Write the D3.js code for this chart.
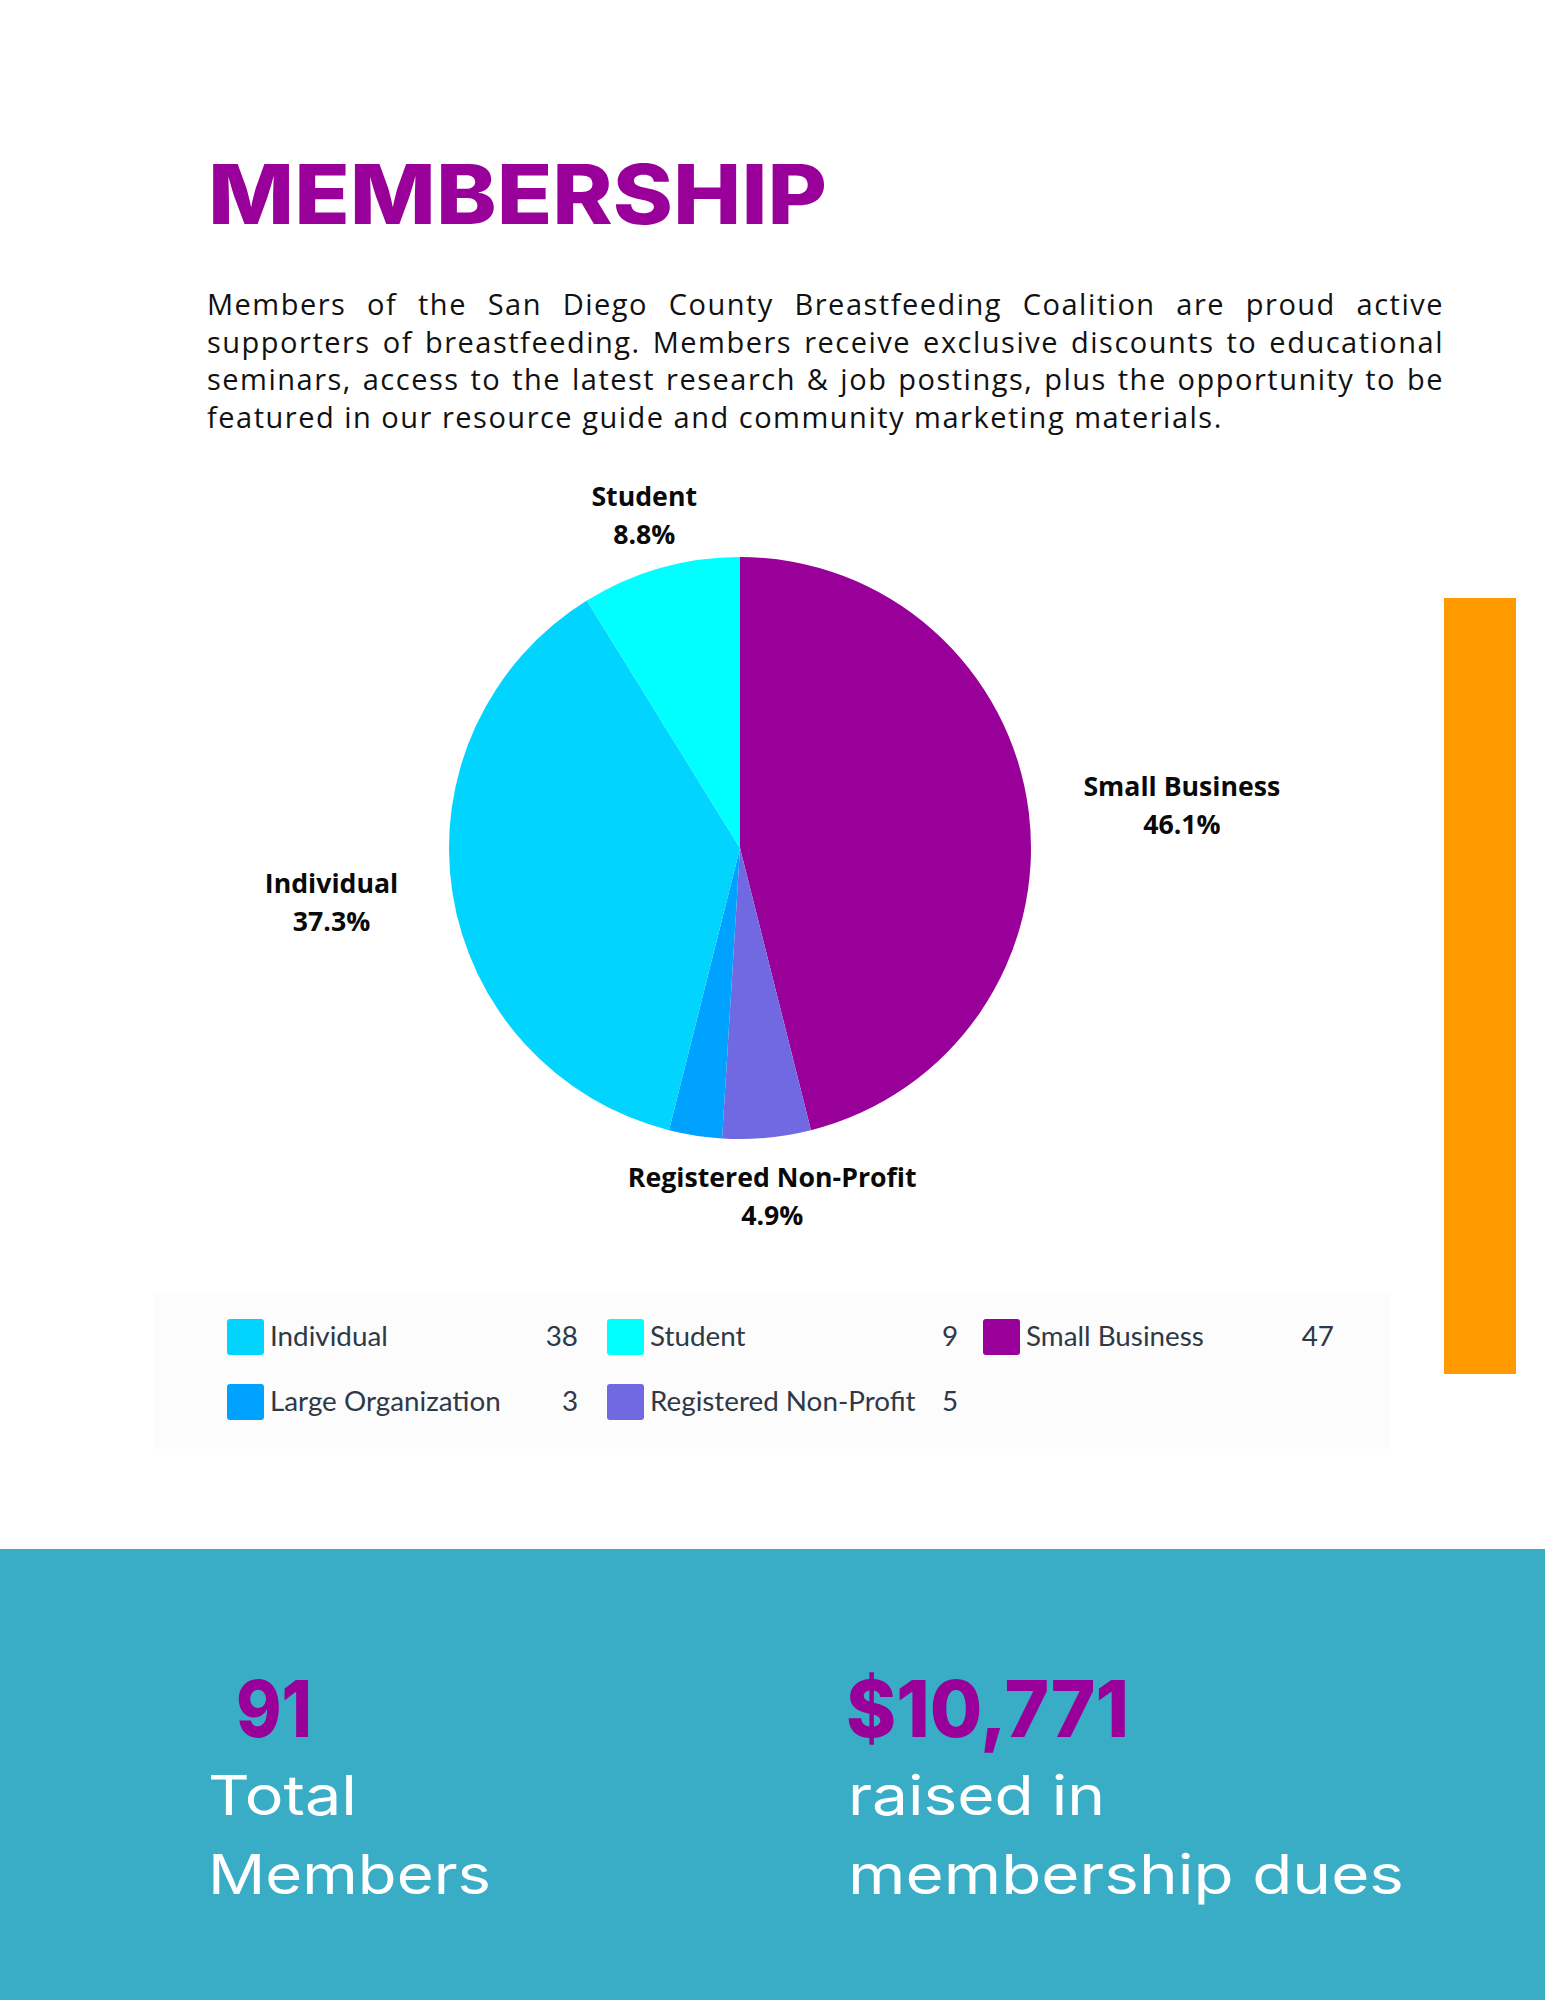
<!DOCTYPE html>
<html>
<head>
<meta charset="utf-8">
<script src="https://cdn.jsdelivr.net/npm/d3@7"></script>
<style>
  body { margin: 0; background: #fff; }
  svg { display: block; }
</style>
</head>
<body>
<script>
// membership counts (legend order)
const categories = ["Individual", "Student", "Small Business", "Large Organization", "Registered Non-Profit"];
const members = [38, 9, 47, 3, 5];
const colors = ["#00d4ff", "#00ffff", "#990099", "#00a2ff", "#7169e2"];
// order slices go round the pie, clockwise from 12 o'clock
const sliceOrder = ["Small Business", "Registered Non-Profit", "Large Organization", "Individual", "Student"];

const introLines = [
  "Members of the San Diego County Breastfeeding Coalition are proud active",
  "supporters of breastfeeding. Members receive exclusive discounts to educational",
  "seminars, access to the latest research & job postings, plus the opportunity to be",
  "featured in our resource guide and community marketing materials."
];
const totalMembers = "91";
const totalLabel = ["Total", "Members"];
const duesRaised = "$10,771";
const duesLabel = ["raised in", "membership dues"];

const W = 1545, H = 2000;
const purple = "#990099", teal = "#3aadc6", orange = "#ff9a00";

const svg = d3.select("body").append("svg")
  .attr("width", W)
  .attr("height", H);

svg.append("rect").attr("width", W).attr("height", H).attr("fill", "#fff");

// Title
svg.append("text")
  .attr("x", 208).attr("y", 224)
  .attr("textLength", 619).attr("lengthAdjust", "spacingAndGlyphs")
  .style("font-family", "Inter, sans-serif")
  .style("font-weight", 800)
  .style("font-size", "82px")
  .attr("fill", purple)
  .text("MEMBERSHIP");

// Intro paragraph, justified except the last line
const textLeft = 207, textRight = 1444;
introLines.forEach((line, i) => {
  const t = svg.append("text")
    .attr("x", textLeft).attr("y", 315 + i * 37.7)
    .style("font-family", "'Open Sans', sans-serif")
    .style("font-size", "29px")
    .style("letter-spacing", "1.5px")
    .attr("fill", "#111")
    .text(line);
  if (i < introLines.length - 1) {
    const gaps = line.split(" ").length - 1;
    const extra = (textRight - textLeft - t.node().getComputedTextLength()) / gaps;
    t.style("word-spacing", extra + "px");
  }
});

// Orange side bar
svg.append("rect")
  .attr("x", 1444).attr("y", 598)
  .attr("width", 72).attr("height", 776)
  .attr("fill", orange);

// Pie
const cx = 740, cy = 848, radius = 291;
const color = d3.scaleOrdinal(categories, colors);
const byName = new Map(categories.map((c, i) => [c, members[i]]));
const total = d3.sum(members);
const pct = d3.format(".1%");

const pie = d3.pie().sort(null).value(d => d.value);
const arcs = pie(sliceOrder.map(name => ({ name, value: byName.get(name) })));
const arc = d3.arc().innerRadius(0).outerRadius(radius);

const g = svg.append("g").attr("transform", `translate(${cx},${cy})`);
g.selectAll("path")
  .data(arcs)
  .join("path")
  .attr("d", arc)
  .attr("fill", d => color(d.data.name));

// Slice labels (tiny slices left unlabeled)
const labelGap = 58;
const labels = g.selectAll("g.lbl")
  .data(arcs.filter(d => d.data.value / total >= 0.04))
  .join("g")
  .attr("class", "lbl");

labels.each(function(d) {
  const lg = d3.select(this);
  const l1 = lg.append("text").text(d.data.name);
  const l2 = lg.append("text").text(pct(d.data.value / total));
  lg.selectAll("text")
    .attr("text-anchor", "middle")
    .style("font-family", "'Open Sans', sans-serif")
    .style("font-weight", 700)
    .style("font-size", "26.7px")
    .attr("fill", "#0a0a0a");
  const w = Math.max(l1.node().getComputedTextLength(), l2.node().getComputedTextLength());
  const a = (d.startAngle + d.endAngle) / 2;
  const s = Math.sin(a), c = Math.cos(a);
  const x = s * (radius + labelGap + Math.pow(Math.abs(s), 3) * w / 2);
  const y = -c * (radius + labelGap) + (c > 0.9 ? 3 : 0);
  l1.attr("x", x).attr("y", y - 9);
  l2.attr("x", x).attr("y", y + 29);
});

// Legend
svg.append("rect")
  .attr("x", 154).attr("y", 1293)
  .attr("width", 1237).attr("height", 156)
  .attr("fill", "#fcfcfc");

const colX = [227, 607, 983], rowY = [1319, 1384];
const legend = svg.selectAll("g.legend")
  .data(categories.map((name, i) => ({ name, value: members[i], i })))
  .join("g")
  .attr("class", "legend")
  .attr("transform", d => `translate(${colX[d.i % 3]},${rowY[Math.floor(d.i / 3)]})`);

legend.append("rect")
  .attr("width", 37).attr("height", 36).attr("rx", 3)
  .attr("fill", d => color(d.name));

legend.append("text")
  .attr("x", 43).attr("y", 27)
  .style("font-family", "Lato, sans-serif")
  .style("font-size", "27.8px")
  .attr("fill", "#2e3846")
  .text(d => d.name);

legend.append("text")
  .attr("x", 351).attr("y", 27)
  .attr("text-anchor", "end")
  .style("font-family", "Lato, sans-serif")
  .style("font-size", "27.8px")
  .attr("fill", "#2e3846")
  .text(d => d.value);

// Bottom stats band
svg.append("rect")
  .attr("x", 0).attr("y", 1549)
  .attr("width", W).attr("height", H - 1549)
  .attr("fill", teal);

function bigNum(x, str, len) {
  svg.append("text")
    .attr("x", x).attr("y", 1737)
    .attr("textLength", len).attr("lengthAdjust", "spacingAndGlyphs")
    .style("font-family", "Inter, sans-serif")
    .style("font-weight", 800)
    .style("font-size", "79px")
    .attr("fill", purple)
    .text(str);
}
bigNum(236, totalMembers, 76);
bigNum(846, duesRaised, 283);

function caption(x, lines, lens) {
  lines.forEach((s, i) => {
    svg.append("text")
      .attr("x", x).attr("y", 1815 + i * 79)
      .attr("textLength", lens[i]).attr("lengthAdjust", "spacingAndGlyphs")
      .style("font-family", "Inter, sans-serif")
      .style("font-size", "55px")
      .attr("fill", "#fff")
      .text(s);
  });
}
caption(208, totalLabel, [149, 283]);
caption(848, duesLabel, [257, 556]);
</script>
</body>
</html>
